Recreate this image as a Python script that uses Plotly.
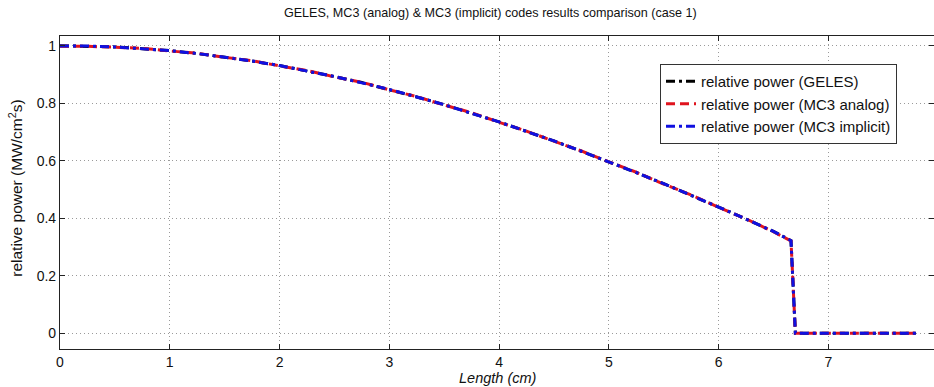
import plotly.graph_objects as go

length_cm = [0, 0.25, 0.5, 0.75, 1.0, 1.25, 1.5, 1.75, 2.0, 2.25, 2.5, 2.75, 3.0, 3.25,
             3.5, 3.75, 4.0, 4.25, 4.5, 4.75, 5.0, 5.25, 5.5, 5.75, 6.0, 6.25, 6.5,
             6.66, 6.70, 7.0, 7.5, 7.80]

geles = [1.000, 0.999, 0.996, 0.990, 0.983, 0.973, 0.961, 0.947, 0.931, 0.913, 0.893,
         0.872, 0.848, 0.822, 0.795, 0.766, 0.735, 0.702, 0.669, 0.633, 0.597, 0.559,
         0.520, 0.480, 0.439, 0.397, 0.354, 0.322, 0.0, 0.0, 0.0, 0.0]

mc3_analog = [0.998, 0.998, 0.995, 0.991, 0.982, 0.974, 0.960, 0.948, 0.930, 0.914, 0.892,
              0.873, 0.847, 0.823, 0.794, 0.767, 0.734, 0.703, 0.668, 0.634, 0.596, 0.560,
              0.519, 0.481, 0.438, 0.398, 0.353, 0.321, 0.0, 0.0, 0.0, 0.0]

mc3_implicit = [0.999, 0.999, 0.996, 0.990, 0.983, 0.973, 0.961, 0.947, 0.931, 0.913, 0.893,
                0.871, 0.848, 0.822, 0.795, 0.765, 0.735, 0.702, 0.669, 0.633, 0.597, 0.559,
                0.520, 0.480, 0.439, 0.397, 0.354, 0.322, 0.0, 0.0, 0.0, 0.0]

x_ticks = [0, 1, 2, 3, 4, 5, 6, 7, 8]
y_ticks = [0, 0.2, 0.4, 0.6, 0.8, 1.0]
y_tick_labels = ["0", "0.2", "0.4", "0.6", "0.8", "1"]

FONT = "Liberation Sans, Arial, sans-serif"

fig = go.Figure()
fig.add_trace(go.Scatter(x=length_cm, y=geles, mode="lines",
                         name="relative power (GELES)",
                         line=dict(color="black", width=3, dash="9px,4px,3px,4px")))
fig.add_trace(go.Scatter(x=length_cm, y=mc3_analog, mode="lines",
                         name="relative power (MC3 analog)",
                         line=dict(color="#e0141e", width=3, dash="9px,5px")))
fig.add_trace(go.Scatter(x=length_cm, y=mc3_implicit, mode="lines",
                         name="relative power (MC3 implicit)",
                         line=dict(color="#1010e0", width=3, dash="9px,4px,3px,4px")))

axis_common = dict(
    showline=True, linecolor="#222", linewidth=1.2, mirror="ticks",
    ticks="inside", ticklen=5, tickcolor="#222",
    showgrid=True, gridcolor="#9a9a9a", griddash="1px,3px", gridwidth=1,
    zeroline=False, automargin=False,
    tickfont=dict(family=FONT, size=14, color="#111"),
)

fig.update_layout(
    width=934, height=387, autosize=False,
    margin=dict(l=60, r=0, t=36, b=38),
    paper_bgcolor="white", plot_bgcolor="white",
    font=dict(family=FONT, color="#111"),
    title=dict(text="GELES, MC3 (analog) & MC3 (implicit) codes results comparison (case 1)",
               x=0.525, xanchor="center", y=1 - 13 / 387, yanchor="middle",
               font=dict(family=FONT, size=12.6, color="#111")),
    xaxis=dict(range=[0, 7.963], tickvals=x_ticks, **axis_common),
    yaxis=dict(range=[-0.055, 1.034], tickvals=y_ticks, ticktext=y_tick_labels,
               **axis_common),
    legend=dict(x=0.6865, y=0.9105, xanchor="left", yanchor="top",
                bgcolor="white", bordercolor="#333", borderwidth=1,
                font=dict(family=FONT, size=15, color="#111"),
                tracegroupgap=0, itemwidth=30),
    showlegend=True,
    annotations=[
        dict(text="<i>Length (cm)</i>", xref="paper", yref="paper",
             x=0.5006, y=-0.0927, xanchor="center", yanchor="middle",
             showarrow=False, font=dict(family=FONT, size=14.5, color="#111")),
        dict(text="relative power (MW/cm<sup>2</sup>s)", xref="paper", yref="paper",
             x=-0.05, y=0.513, xanchor="center", yanchor="middle", textangle=-90,
             showarrow=False, font=dict(family=FONT, size=15.5, color="#111")),
    ],
)

fig.write_html("out.html", config={"displayModeBar": False},
               post_script="document.body.style.margin='0';document.body.style.overflow='hidden';")
